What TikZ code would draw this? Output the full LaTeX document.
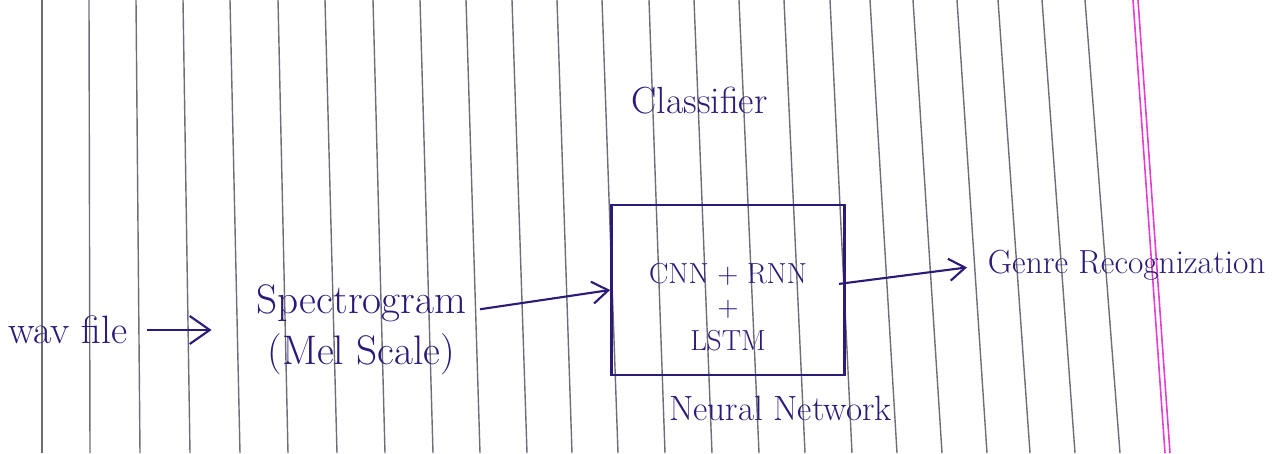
\documentclass[tikz,border=0pt]{standalone}
\usepackage{tikz}
\usetikzlibrary{positioning}
\usetikzlibrary{arrows.meta}

\definecolor{ink}{RGB}{45,25,120}
\definecolor{ruling}{RGB}{110,110,120}
\definecolor{marginPink}{RGB}{232,60,205}

\begin{document}
\begin{tikzpicture}[x=0.02cm, y=-0.02cm]
    % Styles
    \tikzset{
        textNode/.style={
                text=ink,
                inner sep=1pt,
                align=center,
                font=\fontsize{23.5}{29}\selectfont
            }
    }
    \tikzset{
        netBox/.style={
                draw=ink,
                line width=1.6pt,
                rectangle,
                minimum width=4.66cm,
                minimum height=3.4cm
            }
    }
    \tikzset{
        netText/.style={
                text=ink,
                align=center,
                font=\fontsize{16.5}{19}\selectfont
            }
    }
    \tikzset{
        arrow/.style={
                draw=ink,
                line width=1.2pt,
                -{Straight Barb[length=0.32cm, width=0.44cm]}
            }
    }
    \tikzset{
        ruleLine/.style={
                draw=ruling,
                line width=0.8pt
            }
    }
    % Paper
    \useasboundingbox (0,0) rectangle (1287,453);
    \foreach \top/\bot in {42/42, 89/90, 136/140, 183/190, 230/240, 278/288,
        325/337, 373/385, 420/433, 466/480, 512/527, 557/572, 602/618,
        649/665, 694/712, 739/759, 784/805, 830/852, 870/897, 913/942,
        957/987, 998/1030, 1042/1075, 1085/1120}{
        \draw[ruleLine] (\top,0) -- (\bot,453);
    }
    \draw[draw=marginPink, line width=0.9pt] (1133,0) -- (1165,453);
    \draw[draw=marginPink, line width=0.9pt] (1138,0) -- (1170,453);
    % Placing nodes
    \node[netBox](net) at (728,290) {};
    \node[netText](netInner) at ([yshift=-0.34cm]net.center) {CNN + RNN\\+\\LSTM};
    \node[textNode, left = 2.84cm of net, yshift = -0.8cm](spec) {Spectrogram\\(Mel Scale)};
    \node[textNode, left = 2.5cm of spec, font=\fontsize{22.5}{27}\selectfont](wav) {wav file};
    \node[textNode, right = 2.8cm of net, yshift = 0.5cm, font=\fontsize{19}{23}\selectfont](genre) {Genre Recognization};
    \node[textNode, above = 1.75cm of net, xshift = -0.57cm, font=\fontsize{21.5}{26}\selectfont](clf) {Classifier};
    \node[textNode, below = 0.36cm of net, xshift = 1.05cm, font=\fontsize{20}{24}\selectfont](nn) {Neural Network};
    % Draw arrows
    \draw[arrow, shorten <= 0.35cm, shorten >= 0.86cm, -{Straight Barb[length=0.4cm, width=0.56cm]}](wav.east) -- (spec.west);
    \draw[arrow, shorten <= 0.24cm]([yshift=0.38cm]spec.east) -- (net.west);
    \draw[arrow, shorten <= -0.14cm, shorten >= 0.38cm]([yshift=0.14cm]net.east) -- (genre.west);
\end{tikzpicture}
\end{document}
